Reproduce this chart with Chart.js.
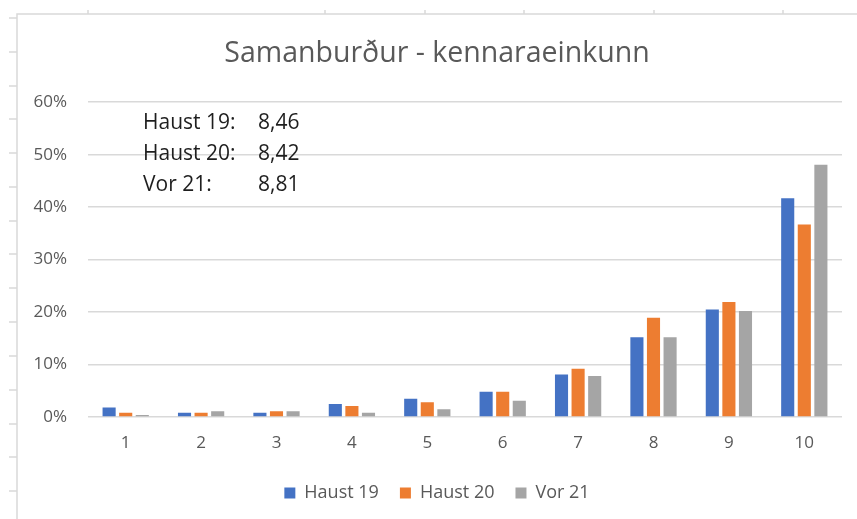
<!DOCTYPE html>
<html>
<head>
<meta charset="utf-8">
<title>Samanburður - kennaraeinkunn</title>
<script src="https://cdn.jsdelivr.net/npm/chart.js"></script>
<style>
  html, body { margin: 0; padding: 0; background: #fff; }
  #wrap { width: 857px; height: 519px; }
</style>
</head>
<body>
<div id="wrap"><canvas id="myChart" width="857" height="519"></canvas></div>
<script>
// grades and share of students per grade (%)
var grades = ["1", "2", "3", "4", "5", "6", "7", "8", "9", "10"];
var haust19 = [1.8, 0.8, 0.8, 2.5, 3.5, 4.8, 8.1, 15.2, 20.5, 41.7];
var haust20 = [0.8, 0.8, 1.1, 2.1, 2.8, 4.8, 9.2, 18.9, 21.9, 36.7];
var vor21 = [0.4, 1.1, 1.1, 0.8, 1.5, 3.1, 7.8, 15.2, 20.2, 48.1];
var seriesNames = ["Haust 19", "Haust 20", "Vor 21"];
var averages = ["8,46", "8,42", "8,81"];
var yTicks = [0, 10, 20, 30, 40, 50, 60];
var barColors = ["#4472C4", "#ED7D31", "#A5A5A5"];

// faint spreadsheet cell lines behind the chart
var sheetRows = [18, 52, 86, 119, 153, 187, 221, 254, 288, 322, 356, 390, 424, 457, 491];
var sheetCols = [88, 325, 425, 524, 654, 783];

const sheetGrid = {
  id: 'sheetGrid',
  beforeDraw(chart) {
    const ctx = chart.ctx;
    ctx.save();
    ctx.strokeStyle = '#d9d9d9';
    ctx.lineWidth = 1.5;
    ctx.beginPath();
    ctx.moveTo(17, 519); ctx.lineTo(17, 14); ctx.lineTo(857, 14);
    sheetRows.forEach(y => { ctx.moveTo(9, y); ctx.lineTo(17, y); });
    sheetCols.forEach(x => { ctx.moveTo(x, 10); ctx.lineTo(x, 14); });
    ctx.stroke();
    ctx.restore();
  }
};

// text box with the averages
const averagesBox = {
  id: 'averagesBox',
  afterDraw(chart) {
    const ctx = chart.ctx;
    const area = chart.chartArea;
    ctx.save();
    ctx.font = "21px 'Open Sans', sans-serif";
    ctx.fillStyle = '#1e1e1e';
    ctx.textBaseline = 'middle';
    seriesNames.forEach((name, i) => {
      const y = area.top + 20.5 + i * 31;
      ctx.fillText(name + ':', area.left + 55, y);
      ctx.fillText(averages[i], area.left + 170, y);
    });
    ctx.restore();
  }
};

Chart.defaults.font.family = "'Open Sans', sans-serif";
Chart.defaults.color = '#595959';

new Chart("myChart", {
  type: "bar",
  data: {
    labels: grades,
    datasets: [haust19, haust20, vor21].map((vals, i) => ({
      label: seriesNames[i],
      data: vals,
      backgroundColor: barColors[i],
      categoryPercentage: 0.66,
      barPercentage: 0.79,
      yAxisID: 'y'
    }))
  },
  options: {
    responsive: false,
    animation: false,
    devicePixelRatio: 1,
    layout: { padding: { left: 17, right: 0, top: 14, bottom: 7 } },
    plugins: {
      title: {
        display: true,
        text: "Samanburður - kennaraeinkunn",
        color: '#595959',
        font: { size: 28.5, weight: 'normal' },
        padding: { top: 23, bottom: 31 }
      },
      legend: {
        position: 'bottom',
        maxHeight: 57,
        labels: {
          boxWidth: 11,
          boxHeight: 11,
          padding: 21,
          color: '#595959',
          font: { size: 18 }
        }
      },
      tooltip: { enabled: false }
    },
    scales: {
      x: {
        grid: { display: false },
        border: { display: false },
        ticks: { font: { size: 17 }, color: '#595959', padding: 8 },
        afterFit(scale) { scale.height = 46; }
      },
      y: {
        min: 0,
        max: 60,
        afterBuildTicks(scale) { scale.ticks = yTicks.map(v => ({ value: v })); },
        grid: { color: '#d9d9d9', lineWidth: 1.5, drawTicks: false },
        border: { display: false },
        ticks: {
          font: { size: 17 },
          color: '#595959',
          padding: 21,
          callback: v => v + '%'
        },
        afterFit(scale) { scale.width = 71; }
      },
      yRight: {
        position: 'right',
        display: true,
        grid: { display: false },
        border: { display: false },
        ticks: { display: false },
        afterFit(scale) { scale.width = 15; }
      }
    }
  },
  plugins: [sheetGrid, averagesBox]
});
</script>
</body>
</html>
